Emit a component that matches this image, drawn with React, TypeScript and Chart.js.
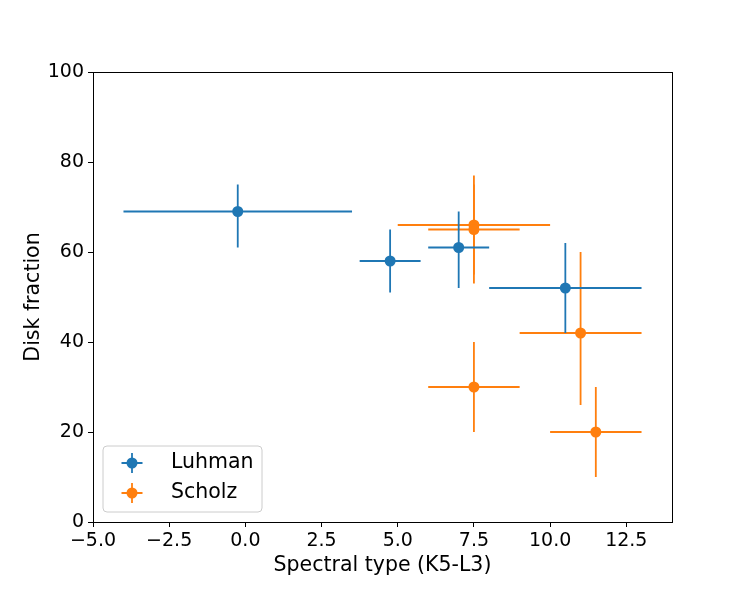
import React, { useEffect, useRef } from "react";
import { Chart, registerables } from "chart.js";

Chart.register(...registerables);

// Luhman
const luhmanX = [-0.25, 4.75, 7, 10.5];
const luhmanY = [69, 58, 61, 52];
const luhmanXLo = [-4, 3.75, 6, 8];
const luhmanXHi = [3.5, 5.75, 8, 13];
const luhmanYLo = [61, 51, 52, 42];
const luhmanYHi = [75, 65, 69, 62];

// Scholz
const scholzX = [7.5, 7.5, 7.5, 11, 11.5];
const scholzY = [66, 65, 30, 42, 20];
const scholzXLo = [5, 6, 6, 9, 10];
const scholzXHi = [10, 9, 9, 13, 13];
const scholzYLo = [53, 55, 20, 26, 10];
const scholzYHi = [77, 75, 40, 60, 30];

const xTicks = [-5, -2.5, 0, 2.5, 5, 7.5, 10, 12.5];
const yTicks = [0, 20, 40, 60, 80, 100];

const seriesNames = ["Luhman", "Scholz"];
const seriesColors = ["#1f77b4", "#ff7f0e"];

const FONT = "DejaVu Sans";
const FS = 19;
const FS_TITLE = 20.5;
const R = 5.5;

const errs = [
  { xl: luhmanXLo, xh: luhmanXHi, yl: luhmanYLo, yh: luhmanYHi },
  { xl: scholzXLo, xh: scholzXHi, yl: scholzYLo, yh: scholzYHi },
];

const fmt = (v: number) => {
  const s = v.toFixed(1);
  return v < 0 ? "\u2212" + s.slice(1) : s;
};

const errorBarPlugin = {
  id: "errbars",
  beforeDatasetDraw(chart: any, args: any) {
    const i = args.index;
    const e = errs[i];
    const xs = chart.scales.x;
    const ys = chart.scales.y;
    const data = chart.data.datasets[i].data;
    const ctx = chart.ctx;
    ctx.save();
    ctx.strokeStyle = seriesColors[i];
    ctx.lineWidth = 1.8;
    ctx.lineCap = "butt";
    data.forEach((p: any, k: number) => {
      const px = xs.getPixelForValue(p.x);
      const py = ys.getPixelForValue(p.y);
      ctx.beginPath();
      ctx.moveTo(xs.getPixelForValue(e.xl[k]), py);
      ctx.lineTo(xs.getPixelForValue(e.xh[k]), py);
      ctx.moveTo(px, ys.getPixelForValue(e.yl[k]));
      ctx.lineTo(px, ys.getPixelForValue(e.yh[k]));
      ctx.stroke();
    });
    ctx.restore();
  },
  afterDraw(chart: any) {
    const { ctx, chartArea } = chart;
    ctx.save();
    // frame
    ctx.strokeStyle = "#000";
    ctx.lineWidth = 1;
    ctx.strokeRect(
      Math.round(chartArea.left) + 0.5,
      Math.round(chartArea.top) + 0.5,
      Math.round(chartArea.right - chartArea.left),
      Math.round(chartArea.bottom - chartArea.top)
    );
    // legend
    const lx = chartArea.left + 10;
    const ly = chartArea.bottom - 76;
    const lw = 159;
    const lh = 66;
    const rr = 4;
    ctx.beginPath();
    ctx.moveTo(lx + rr, ly);
    ctx.lineTo(lx + lw - rr, ly);
    ctx.quadraticCurveTo(lx + lw, ly, lx + lw, ly + rr);
    ctx.lineTo(lx + lw, ly + lh - rr);
    ctx.quadraticCurveTo(lx + lw, ly + lh, lx + lw - rr, ly + lh);
    ctx.lineTo(lx + rr, ly + lh);
    ctx.quadraticCurveTo(lx, ly + lh, lx, ly + lh - rr);
    ctx.lineTo(lx, ly + rr);
    ctx.quadraticCurveTo(lx, ly, lx + rr, ly);
    ctx.closePath();
    ctx.fillStyle = "rgba(255,255,255,0.8)";
    ctx.fill();
    ctx.strokeStyle = "#cccccc";
    ctx.lineWidth = 1;
    ctx.stroke();
    seriesNames.forEach((name, i) => {
      const cy = ly + 17 + i * 30;
      const cx = lx + 29;
      ctx.strokeStyle = seriesColors[i];
      ctx.lineWidth = 1.8;
      ctx.beginPath();
      ctx.moveTo(cx - 10.5, cy);
      ctx.lineTo(cx + 10.5, cy);
      ctx.moveTo(cx, cy - 10);
      ctx.lineTo(cx, cy + 10);
      ctx.stroke();
      ctx.fillStyle = seriesColors[i];
      ctx.beginPath();
      ctx.arc(cx, cy, R, 0, Math.PI * 2);
      ctx.fill();
      ctx.fillStyle = "#000";
      ctx.font = `${FS_TITLE}px "${FONT}"`;
      ctx.textBaseline = "middle";
      ctx.textAlign = "left";
      ctx.fillText(name, lx + 68, cy);
    });
    ctx.restore();
  },
};

export default function App() {
  const ref = useRef<HTMLCanvasElement | null>(null);
  useEffect(() => {
    if (!ref.current) return;
    const chart = new Chart(ref.current, {
      type: "scatter",
      data: {
        datasets: [
          {
            label: seriesNames[0],
            data: luhmanX.map((x, i) => ({ x, y: luhmanY[i] })),
            backgroundColor: seriesColors[0],
            borderColor: seriesColors[0],
            pointRadius: R,
            pointBorderWidth: 0,
          },
          {
            label: seriesNames[1],
            data: scholzX.map((x, i) => ({ x, y: scholzY[i] })),
            backgroundColor: seriesColors[1],
            borderColor: seriesColors[1],
            pointRadius: R,
            pointBorderWidth: 0,
          },
        ],
      },
      options: {
        animation: false,
        responsive: false,
        devicePixelRatio: 1,
        layout: { padding: { top: 72, right: 75, left: 0, bottom: 0 } },
        plugins: {
          legend: { display: false },
          tooltip: { enabled: false },
        },
        scales: {
          x: {
            type: "linear",
            min: -5,
            max: 14,
            afterBuildTicks: (s: any) => {
              s.ticks = xTicks.map((v) => ({ value: v }));
            },
            afterFit: (s: any) => {
              s.height = 76;
            },
            grid: {
              display: true,
              drawOnChartArea: false,
              drawTicks: true,
              tickLength: 5,
              color: "#000",
            },
            border: { display: true, color: "#000", width: 1 },
            ticks: {
              color: "#000",
              font: { family: FONT, size: FS },
              padding: 3,
              maxRotation: 0,
              autoSkip: false,
              callback: (v: any) => fmt(Number(v)),
            },
            title: {
              display: true,
              text: "Spectral type (K5-L3)",
              color: "#000",
              font: { family: FONT, size: FS_TITLE },
              padding: { top: 0, bottom: 20 },
            },
          },
          y: {
            type: "linear",
            min: 0,
            max: 100,
            afterBuildTicks: (s: any) => {
              s.ticks = yTicks.map((v) => ({ value: v }));
            },
            afterFit: (s: any) => {
              s.width = 93;
            },
            grid: {
              display: true,
              drawOnChartArea: false,
              drawTicks: true,
              tickLength: 5,
              color: "#000",
            },
            border: { display: true, color: "#000", width: 1 },
            ticks: {
              color: "#000",
              font: { family: FONT, size: FS },
              padding: 4,
              autoSkip: false,
              callback: (v: any) => String(v),
            },
            title: {
              display: true,
              text: "Disk fraction",
              color: "#000",
              font: { family: FONT, size: FS_TITLE },
              padding: { top: 21, bottom: 0 },
            },
          },
        },
      },
      plugins: [errorBarPlugin],
    });
    return () => chart.destroy();
  }, []);
  return (
    <div style={{ position: "fixed", left: 0, top: 0, width: 747, height: 598, background: "#fff" }}>
      <canvas ref={ref} width={747} height={598} style={{ width: 747, height: 598, display: "block" }} />
    </div>
  );
}
